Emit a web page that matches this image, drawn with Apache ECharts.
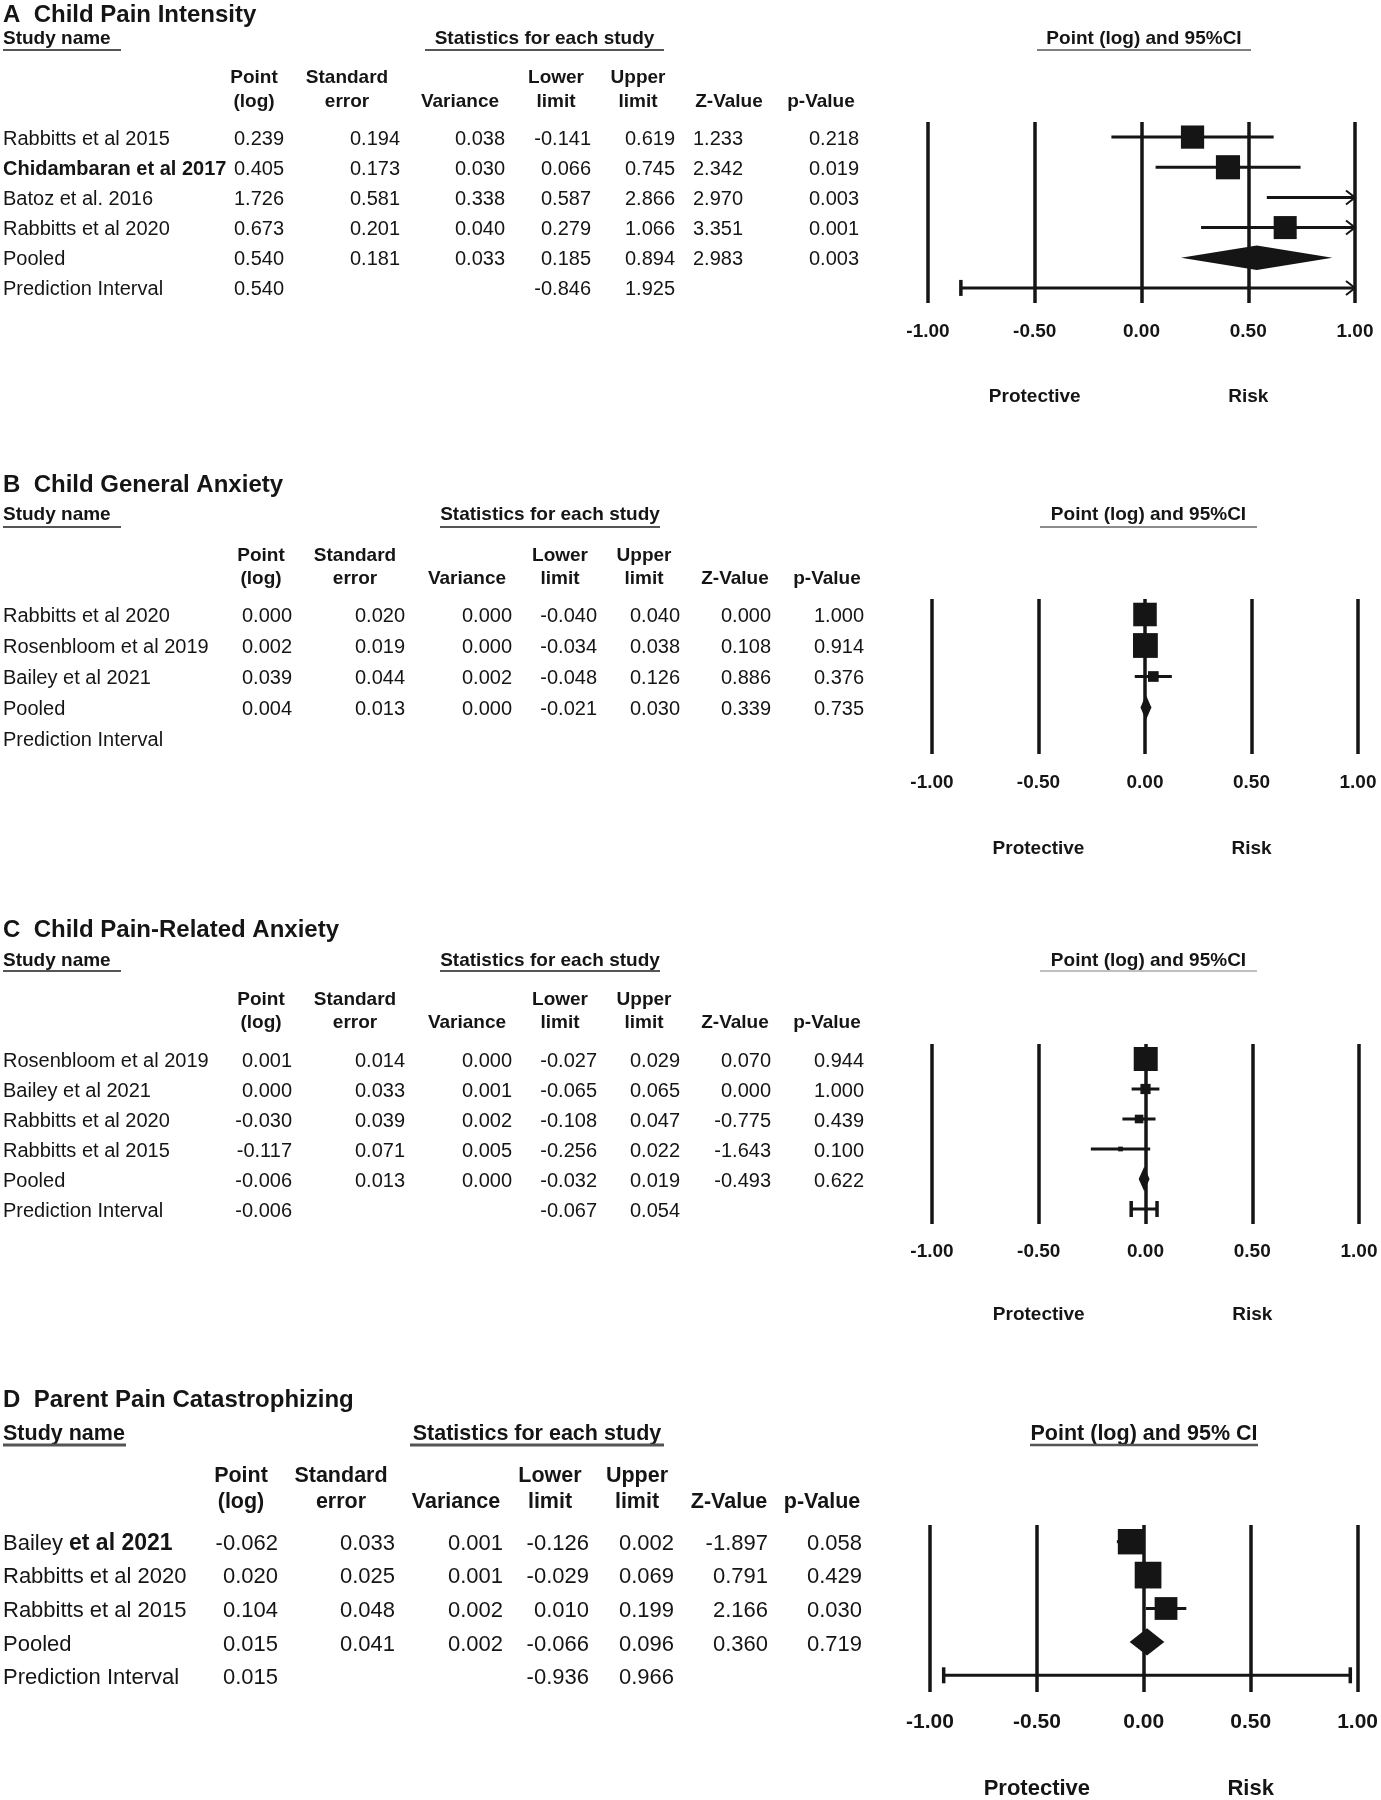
<!DOCTYPE html>
<html><head><meta charset="utf-8">
<script src="https://cdn.jsdelivr.net/npm/echarts@6/dist/echarts.min.js"></script>
<style>html,body{margin:0;padding:0;background:#fff}#c{width:1381px;height:1800px}</style>
</head><body><div id="c"></div>
<script>
// ---------------- DATA ----------------
const panelTitles = ['A  Child Pain Intensity', 'B  Child General Anxiety', 'C  Child Pain-Related Anxiety', 'D  Parent Pain Catastrophizing'];
const colHeads = [['Point', '(log)'], ['Standard', 'error'], ['', 'Variance'], ['Lower', 'limit'], ['Upper', 'limit'], ['', 'Z-Value'], ['', 'p-Value']];
const tickMin = -1, tickMax = 1, tickStep = 0.5;

// A  Child Pain Intensity
const namesA = ['Rabbitts et al 2015', 'Chidambaran et al 2017', 'Batoz et al. 2016', 'Rabbitts et al 2020', 'Pooled', 'Prediction Interval'];
const pointA = [0.239, 0.405, 1.726, 0.673, 0.540, 0.540];
const seA = [0.194, 0.173, 0.581, 0.201, 0.181, null];
const varA = [0.038, 0.030, 0.338, 0.040, 0.033, null];
const lowerA = [-0.141, 0.066, 0.587, 0.279, 0.185, -0.846];
const upperA = [0.619, 0.745, 2.866, 1.066, 0.894, 1.925];
const zA = [1.233, 2.342, 2.970, 3.351, 2.983, null];
const pA = [0.218, 0.019, 0.003, 0.001, 0.003, null];
const weightA = [30.0, 32.4, 8.0, 29.5];

// B  Child General Anxiety
const namesB = ['Rabbitts et al 2020', 'Rosenbloom et al 2019', 'Bailey et al 2021', 'Pooled', 'Prediction Interval'];
const pointB = [0.000, 0.002, 0.039, 0.004, null];
const seB = [0.020, 0.019, 0.044, 0.013, null];
const varB = [0.000, 0.000, 0.002, 0.000, null];
const lowerB = [-0.040, -0.034, -0.048, -0.021, null];
const upperB = [0.040, 0.038, 0.126, 0.030, null];
const zB = [0.000, 0.108, 0.886, 0.339, null];
const pB = [1.000, 0.914, 0.376, 0.735, null];
const weightB = [43.2, 47.9, 8.9];

// C  Child Pain-Related Anxiety
const namesC = ['Rosenbloom et al 2019', 'Bailey et al 2021', 'Rabbitts et al 2020', 'Rabbitts et al 2015', 'Pooled', 'Prediction Interval'];
const pointC = [0.001, 0.000, -0.030, -0.117, -0.006, -0.006];
const seC = [0.014, 0.033, 0.039, 0.071, 0.013, null];
const varC = [0.000, 0.001, 0.002, 0.005, 0.000, null];
const lowerC = [-0.027, -0.065, -0.108, -0.256, -0.032, -0.067];
const upperC = [0.029, 0.065, 0.047, 0.022, 0.019, 0.054];
const zC = [0.070, 0.000, -0.775, -1.643, -0.493, null];
const pC = [0.944, 1.000, 0.439, 0.100, 0.622, null];
const weightC = [74.2, 13.4, 9.6, 2.9];

// D  Parent Pain Catastrophizing
const namesD = ['Bailey et al 2021', 'Rabbitts et al 2020', 'Rabbitts et al 2015', 'Pooled', 'Prediction Interval'];
const pointD = [-0.062, 0.020, 0.104, 0.015, 0.015];
const seD = [0.033, 0.025, 0.048, 0.041, null];
const varD = [0.001, 0.001, 0.002, 0.002, null];
const lowerD = [-0.126, -0.029, 0.010, -0.066, -0.936];
const upperD = [0.002, 0.069, 0.199, 0.096, 0.966];
const zD = [-1.897, 0.791, 2.166, 0.360, null];
const pD = [0.058, 0.429, 0.030, 0.719, null];
const weightD = [34.4, 38.0, 27.6];

// ---------------- LAYOUT / STYLE ----------------
const FONT = '"Liberation Sans", Arial, Helvetica, sans-serif';
const NARROW = '"Liberation Sans Narrow", "Arial Narrow", "Liberation Sans", Arial, sans-serif';
const INK = '#151515';
const DY = 2;
const layouts = [
  {title: 13, hdr: 37, ul: 48, h1: 76, h2: 100, right: [284, 400, 505, 591, 675, 743, 859], center: [254, 347, 460, 556, 638, 729, 821],
   studyUl: [3, 121], stats: [425, 664], forest: [1037, 1251], grid: {left: 928, width: 427, top: 122, height: 181},
   fs: 20, hfs: 19, tfs: 19, pfs: 19, tickMargin: 19, protGap: 84, ulw: 2, fulc: '#555', bold: [1]},
  {title: 483, hdr: 513, ul: 525, h1: 554, h2: 577, right: [292, 405, 512, 597, 680, 771, 864], center: [261, 355, 467, 560, 644, 735, 827],
   studyUl: [3, 121], stats: [440, 660], forest: [1040, 1257], grid: {left: 932, width: 426, top: 599, height: 155},
   fs: 20, hfs: 19, tfs: 19, pfs: 19, tickMargin: 19, protGap: 85, ulw: 2, fulc: '#666', bold: []},
  {title: 928, hdr: 959, ul: 969, h1: 998, h2: 1021, right: [292, 405, 512, 597, 680, 771, 864], center: [261, 355, 467, 560, 644, 735, 827],
   studyUl: [3, 121], stats: [440, 660], forest: [1040, 1257], grid: {left: 932, width: 427, top: 1044, height: 180},
   fs: 20, hfs: 19, tfs: 19, pfs: 19, tickMargin: 18, protGap: 81, ulw: 2, fulc: '#aaa', bold: []},
  {title: 1398, hdr: 1432, ul: 1443, h1: 1474, h2: 1500, right: [278, 395, 503, 589, 674, 768, 862], center: [241, 341, 456, 550, 637, 729, 822],
   studyUl: [3, 126], stats: [410, 664], forest: [1030, 1258], grid: {left: 930, width: 428, top: 1525, height: 168},
   fs: 22, hfs: 21.5, tfs: 21, pfs: 22, tickMargin: 20, protGap: 86, ulw: 3, fulc: '#555', bold: [], mixed: [0]}
];

const panels = [
  {names: namesA, point: pointA, se: seA, vr: varA, lower: lowerA, upper: upperA, z: zA, p: pA, weight: weightA},
  {names: namesB, point: pointB, se: seB, vr: varB, lower: lowerB, upper: upperB, z: zB, p: pB, weight: weightB},
  {names: namesC, point: pointC, se: seC, vr: varC, lower: lowerC, upper: upperC, z: zC, p: pC, weight: weightC},
  {names: namesD, point: pointD, se: seD, vr: varD, lower: lowerD, upper: upperD, z: zD, p: pD, weight: weightD}
];

// ---------------- BUILD ----------------
const fmt = v => (v === null || v === undefined) ? '' : v.toFixed(3);
function txt(x, y, text, fs, weight, align, family) {
  return {type: 'text', x: x, y: y + DY, silent: true,
    style: {text: text, fontSize: fs, fontWeight: weight || 'normal', fontFamily: family || FONT, fill: INK,
      align: align || 'left', verticalAlign: 'middle', textAlign: align || 'left', textVerticalAlign: 'middle'}};
}
function hline(x1, x2, y, w, color) {
  return {type: 'line', silent: true, shape: {x1: x1, y1: y, x2: x2, y2: y}, style: {stroke: color || '#555', lineWidth: w || 2}};
}

function makeRender(nRows) {
  return function (params, api) {
    const cs = params.coordSys;
    const cell = cs.height / nRows;
    const kind = api.value(4);
    const row = api.value(1);
    const y = api.coord([0, row])[1];
    const xL = cs.x, xR = cs.x + cs.width;
    const px = v => api.coord([v, row])[0];
    const lo = px(api.value(2)), hi = px(api.value(3)), pt = px(api.value(0));
    const clamp = v => Math.max(xL, Math.min(xR, v));
    const kids = [];
    const arrow = (x, dir) => ({type: 'polyline', shape: {points: [[x - dir * 9, y - 7], [x, y], [x - dir * 9, y + 7]]},
      style: {stroke: INK, lineWidth: 2, fill: 'none'}});
    const cap = x => ({type: 'line', shape: {x1: x, y1: y - 8, x2: x, y2: y + 8}, style: {stroke: INK, lineWidth: 3.5}});
    if (kind === 1) {
      const h = cell * 0.82;
      kids.push({type: 'polygon', shape: {points: [[clamp(lo), y], [pt, y - h / 2], [clamp(hi), y], [pt, y + h / 2]]},
        style: {fill: INK}});
    } else {
      kids.push({type: 'line', shape: {x1: clamp(lo), y1: y, x2: clamp(hi), y2: y}, style: {stroke: INK, lineWidth: 3}});
      if (hi > xR + 0.5) kids.push(arrow(xR, 1)); else if (kind === 2) kids.push(cap(hi));
      if (lo < xL - 0.5) kids.push(arrow(xL, -1)); else if (kind === 2) kids.push(cap(lo));
      if (kind === 0 && pt >= xL && pt <= xR) {
        const s = cell * 0.8 * api.value(5);
        kids.push({type: 'rect', shape: {x: pt - s / 2, y: y - s / 2, width: s, height: s}, style: {fill: INK}});
      }
    }
    return {type: 'group', children: kids};
  };
}

const grids = [], xAxes = [], yAxes = [], series = [], graphics = [];
panels.forEach((P, k) => {
  const L = layouts[k];
  const n = P.names.length;
  const nStudy = P.weight.length;
  const maxW = Math.max.apply(null, P.weight);
  const cellH = L.grid.height / n;
  const rowY = i => L.grid.top + (i + 0.5) * cellH;

  grids.push({left: L.grid.left, top: L.grid.top, width: L.grid.width, height: L.grid.height, containLabel: false});
  const axBase = {type: 'value', gridIndex: k, min: tickMin, max: tickMax, interval: tickStep, position: 'bottom',
    axisLine: {show: false}, axisTick: {show: false}};
  xAxes.push(Object.assign({}, axBase, {
    splitLine: {show: true, showMinLine: true, showMaxLine: true, lineStyle: {color: INK, width: 3.5}},
    axisLabel: {show: true, margin: L.tickMargin, fontSize: L.tfs, fontWeight: 'bold', fontFamily: FONT, color: INK,
      showMinLabel: true, showMaxLabel: true, formatter: v => v.toFixed(2)}
  }));
  xAxes.push(Object.assign({}, axBase, {
    offset: L.protGap - 8, splitLine: {show: false},
    axisLabel: {show: true, margin: 8, fontSize: L.pfs, fontWeight: 'bold', fontFamily: FONT, color: INK,
      showMinLabel: true, showMaxLabel: true,
      formatter: v => Math.abs(v + 0.5) < 1e-9 ? 'Protective' : (Math.abs(v - 0.5) < 1e-9 ? 'Risk' : '')}
  }));
  yAxes.push({type: 'value', gridIndex: k, min: -0.5, max: n - 0.5, inverse: true, show: false});

  const data = [];
  for (let i = 0; i < n; i++) {
    if (P.lower[i] === null || P.upper[i] === null) continue;
    let kind = 0, rel = 0;
    if (i < nStudy) { kind = 0; rel = Math.sqrt(P.weight[i] / maxW); }
    else if (P.names[i] === 'Pooled') kind = 1;
    else kind = 2;
    data.push([P.point[i], i, P.lower[i], P.upper[i], kind, rel]);
  }
  series.push({type: 'custom', xAxisIndex: 2 * k, yAxisIndex: k, renderItem: makeRender(n), data: data,
    encode: {x: [0, 2, 3], y: 1}, clip: false, silent: true, animation: false});

  graphics.push(txt(3, L.title, panelTitles[k], 24, 'bold'));
  graphics.push(txt(3, L.hdr, 'Study name', L.hfs, 'bold'));
  graphics.push(hline(L.studyUl[0], L.studyUl[1], L.ul + DY, L.ulw));
  graphics.push(txt((L.stats[0] + L.stats[1]) / 2, L.hdr, 'Statistics for each study', L.hfs, 'bold', 'center', NARROW));
  graphics.push(hline(L.stats[0], L.stats[1], L.ul + DY, L.ulw));
  graphics.push(txt((L.forest[0] + L.forest[1]) / 2, L.hdr, k === 3 ? 'Point (log) and 95% CI' : 'Point (log) and 95%CI', L.hfs, 'bold', 'center'));
  graphics.push(hline(L.forest[0], L.forest[1], L.ul + DY, L.ulw - 0.5, L.fulc));
  colHeads.forEach((h, c) => {
    if (h[0]) graphics.push(txt(L.center[c], L.h1, h[0], L.hfs, 'bold', 'center'));
    graphics.push(txt(L.center[c], L.h2, h[1], L.hfs, 'bold', 'center'));
  });

  for (let i = 0; i < n; i++) {
    const y = rowY(i);
    if (L.mixed && L.mixed.indexOf(i) >= 0) {
      const parts = P.names[i].split(' ');
      const first = parts.shift();
      const el = txt(3, y, '{n|' + first + '} {b|' + parts.join(' ') + '}', L.fs, 'normal');
      el.style.rich = {n: {fontSize: L.fs, fontFamily: FONT, fill: INK, fontWeight: 'normal'},
                       b: {fontSize: L.fs + 1, fontFamily: FONT, fill: INK, fontWeight: 'bold'}};
      graphics.push(el);
    } else {
      graphics.push(txt(3, y, P.names[i], L.fs, L.bold.indexOf(i) >= 0 ? 'bold' : 'normal'));
    }
    const vals = [P.point[i], P.se[i], P.vr[i], P.lower[i], P.upper[i], P.z[i], P.p[i]];
    vals.forEach((v, c) => { if (v !== null) graphics.push(txt(L.right[c], y, fmt(v), L.fs, 'normal', 'right')); });
  }
});

const chart = echarts.init(document.getElementById('c'), null, {renderer: 'canvas'});
chart.setOption({
  backgroundColor: '#ffffff',
  animation: false,
  grid: grids,
  xAxis: xAxes,
  yAxis: yAxes,
  series: series,
  graphic: {elements: graphics}
});
</script>
</body></html>
